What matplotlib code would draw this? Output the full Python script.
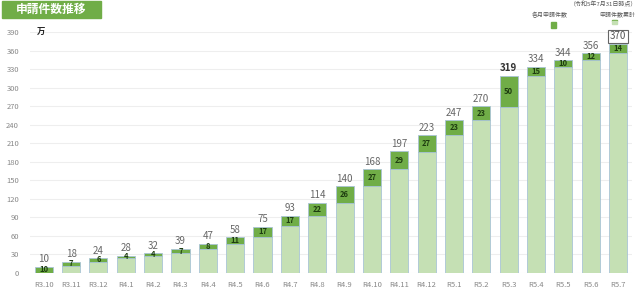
import matplotlib.pyplot as plt
import numpy as np

plt.rcParams['font.family'] = ['Noto Sans CJK JP', 'DejaVu Sans']

months = ["R3.10", "R3.11", "R3.12", "R4.1", "R4.2", "R4.3", "R4.4", "R4.5", "R4.6",
          "R4.7", "R4.8", "R4.9", "R4.10", "R4.11", "R4.12", "R5.1", "R5.2", "R5.3",
          "R5.4", "R5.5", "R5.6", "R5.7"]
total = [10, 18, 24, 28, 32, 39, 47, 58, 75, 93, 114, 140, 168, 197, 223, 247, 270,
         319, 334, 344, 356, 370]
monthly = [10, 7, 6, 4, 4, 7, 8, 11, 17, 17, 22, 26, 27, 29, 27, 23, 23, 50, 15, 10,
           12, 14]

light = "#c5e0b4"
dark = "#70ad47"


def main():
    fig = plt.figure(figsize=(6.4, 2.97), dpi=100)
    ax = fig.add_axes([0.047, 0.081, 0.94, 0.811])

    x = np.arange(len(months))
    base = np.array(total) - np.array(monthly)
    ax.bar(x, base, width=0.66, color=light, edgecolor="#a9c4d6", linewidth=0.6, zorder=2)
    ax.bar(x, monthly, bottom=base, width=0.66, color=dark, edgecolor="#a9c4d6",
           linewidth=0.6, zorder=2)

    for i in range(len(months)):
        ax.text(x[i], base[i] + monthly[i] / 2, str(monthly[i]), ha="center", va="center",
                fontsize=5.5, fontweight="bold", color="#1e3d10", zorder=3)
        if total[i] == 319:
            ax.text(x[i], total[i] + 4, "319", ha="center", va="bottom", fontsize=7,
                    fontweight="bold", color="#333333")
        elif i == len(months) - 1:
            ax.text(x[i], total[i] + 5, str(total[i]), ha="center", va="bottom",
                    fontsize=7, color="#555555",
                    bbox=dict(boxstyle="square,pad=0.15", fc="white", ec="#666666", lw=0.8))
        else:
            ax.text(x[i], total[i] + 4, str(total[i]), ha="center", va="bottom",
                    fontsize=7, color="#666666")

    ax.set_xlim(-0.5, len(months) - 0.5)
    ax.set_ylim(0, 390)
    ax.set_yticks(range(0, 391, 30))
    ax.set_xticks(x)
    ax.set_xticklabels(months)
    ax.tick_params(axis="both", length=0, labelsize=5.5, colors="#888888")
    ax.tick_params(axis="y", pad=8)
    ax.tick_params(axis="x", pad=6)
    ax.grid(axis="y", color="#eeeeee", linewidth=0.8, zorder=0)
    for s in ax.spines.values():
        s.set_visible(False)

    fig.text(0.058, 0.892, "万", fontsize=6, fontweight="bold", va="center", color="#222222")

    # title box
    fig.patches.append(plt.Rectangle((0.003, 0.94), 0.155, 0.055, transform=fig.transFigure,
                                     color=dark, zorder=0))
    fig.text(0.08, 0.967, "申請件数推移", fontsize=8.5, fontweight="bold", color="white",
             ha="center", va="center")

    # legend
    fig.text(0.995, 0.985, "（令和5年7月31日時点）", fontsize=4.3, color="#555555",
             ha="right", va="center")
    fig.text(0.859, 0.95, "各月申請件数", fontsize=4.3, color="#555555", ha="center", va="center")
    fig.text(0.964, 0.95, "申請件数累計", fontsize=4.3, color="#555555", ha="center", va="center")
    fig.patches.append(plt.Rectangle((0.861, 0.906), 0.008, 0.02, transform=fig.transFigure,
                                     color=dark))
    fig.patches.append(plt.Rectangle((0.956, 0.928), 0.008, 0.006, transform=fig.transFigure,
                                     color=dark))
    fig.patches.append(plt.Rectangle((0.956, 0.918), 0.008, 0.01, transform=fig.transFigure,
                                     color=light))

    fig.savefig("out.png", dpi=100)


if __name__ == '__main__':
    main()
